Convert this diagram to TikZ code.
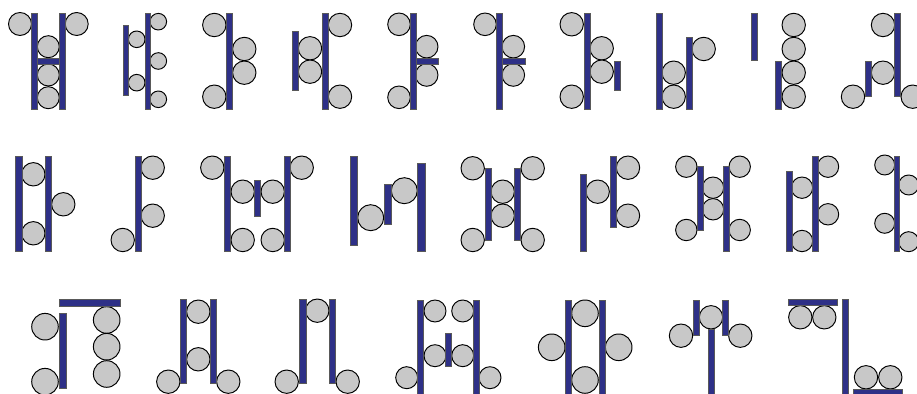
\documentclass[tikz,border=0pt]{standalone}
\definecolor{barblue}{HTML}{2E3087}
\definecolor{ballgray}{HTML}{C8C8C8}

\begin{document}
\begin{tikzpicture}[
    ball/.style={draw=black, fill=ballgray, line width=0.55pt},
    bar/.style={draw=black!65, fill=barblue, line width=0.4pt},
    x=0.02cm, y=-0.02cm]

    \useasboundingbox (0,0) rectangle (917,394);
    \clip (0,0) rectangle (917,394);

    % ----- row 1
    \foreach \x/\y/\r in {20/24/11.5, 76.7/24/11.5, 48.3/46.7/11, 48.3/75/11, 48.3/97.7/11} {
        \draw[ball] (\x,\y) circle[radius=\r];
    }
    \draw[bar] (31.7,13.3) rectangle (37.3,109);
    \draw[bar] (59.3,13.3) rectangle (65.3,109);
    \draw[bar] (37.3,58.3) rectangle (59.3,64);

    \foreach \x/\y in {136.7/39.3, 136.7/82.7, 158.3/21.7, 158.3/61, 158.3/99.3} {
        \draw[ball] (\x,\y) circle[radius=8.3];
    }
    \draw[bar] (123.3,25.7) rectangle (128.3,95.7);
    \draw[bar] (145.3,13.3) rectangle (150.3,109);

    \foreach \x/\y in {214.3/25, 214.3/96.7, 244.3/49, 244.3/72.7} {
        \draw[ball] (\x,\y) circle[radius=11.7];
    }
    \draw[bar] (226.7,13.3) rectangle (232.3,109);

    \foreach \x/\y in {310/48.3, 310/71.7, 340/25, 340/96.7} {
        \draw[ball] (\x,\y) circle[radius=11.7];
    }
    \draw[bar] (292.3,31) rectangle (298.3,90.7);
    \draw[bar] (322.3,13.3) rectangle (328.3,109);

    \foreach \x/\y in {399/24.3, 399/97.3, 426.7/46.7, 426.7/75} {
        \draw[ball] (\x,\y) circle[radius=11.3];
    }
    \draw[bar] (410,13.3) rectangle (416,109);
    \draw[bar] (416,58.3) rectangle (438.3,64);

    \foreach \x/\y in {485/24.3, 513.3/46.7, 513.3/75} {
        \draw[ball] (\x,\y) circle[radius=11.3];
    }
    \draw[bar] (496.7,13.3) rectangle (502.7,109);
    \draw[bar] (502.7,58.3) rectangle (525,64);

    \foreach \x/\y in {571.7/24.3, 571.7/96.7, 601.7/48.3, 601.7/71.7} {
        \draw[ball] (\x,\y) circle[radius=11.7];
    }
    \draw[bar] (584.3,13.3) rectangle (590.3,109);
    \draw[bar] (614.3,61) rectangle (620.3,90.7);

    \foreach \x/\y in {673.7/72.7, 673.7/96.7, 703.7/49} {
        \draw[ball] (\x,\y) circle[radius=11.7];
    }
    \draw[bar] (656,13.3) rectangle (662,109);
    \draw[bar] (686,37.3) rectangle (692,109);

    \foreach \y in {25, 49, 72.7, 96.7} {
        \draw[ball] (793.7,\y) circle[radius=11.7];
    }
    \draw[bar] (751.3,13.3) rectangle (757.3,60.7);
    \draw[bar] (775.7,61) rectangle (781.7,109);

    \foreach \x/\y in {883/25, 883/72.7, 853/96.7, 912.7/96.7} {
        \draw[ball] (\x,\y) circle[radius=11.7];
    }
    \draw[bar] (894.7,13.3) rectangle (900.7,96.7);
    \draw[bar] (865.3,61) rectangle (871.3,96.7);

    % ----- row 2
    \foreach \x/\y in {33.3/174.3, 33.3/233.3, 63.3/204.3} {
        \draw[ball] (\x,\y) circle[radius=11.7];
    }
    \draw[bar] (15.7,156.7) rectangle (22,251.7);
    \draw[bar] (45.7,156.7) rectangle (51.7,251.7);

    \foreach \x/\y in {152.7/167.7, 152.7/215.7, 122.7/240} {
        \draw[ball] (\x,\y) circle[radius=11.7];
    }
    \draw[bar] (135,156.7) rectangle (141,251.7);

    \foreach \x/\y in {212.3/167.7, 242.7/191.7, 272.7/191.7, 242.7/240, 272.7/240, 301.7/167.7} {
        \draw[ball] (\x,\y) circle[radius=11.7];
    }
    \draw[bar] (224.3,156.7) rectangle (230.7,251.7);
    \draw[bar] (254.3,180) rectangle (260.3,216);
    \draw[bar] (284.3,156.7) rectangle (290.7,251.7);

    \draw[ball] (370.7,217.7) circle[radius=13];
    \draw[ball] (404.3,190.7) circle[radius=13];
    \draw[bar] (350,156.7) rectangle (357.3,245);
    \draw[bar] (384,184) rectangle (391,224.3);
    \draw[bar] (417.7,163.3) rectangle (425,251.7);

    \foreach \x/\y in {472.7/168.3, 532.7/168.3, 502.7/191.7, 502.7/215.7, 472.7/240, 532.7/240} {
        \draw[ball] (\x,\y) circle[radius=11.7];
    }
    \draw[bar] (485,168.3) rectangle (491,240);
    \draw[bar] (514.3,168.3) rectangle (520.3,240);

    \foreach \x/\y in {597.7/191.7, 628/167.7, 628/215.7} {
        \draw[ball] (\x,\y) circle[radius=11.7];
    }
    \draw[bar] (580,174.3) rectangle (586.7,251.7);
    \draw[bar] (610.3,156.7) rectangle (616.3,227.7);

    \foreach \x/\y in {686.3/166.7, 713/187.7, 713/209.3, 739.7/166.7, 686.3/230, 739.7/230} {
        \draw[ball] (\x,\y) circle[radius=10.7];
    }
    \draw[bar] (697,166.7) rectangle (703,230.7);
    \draw[bar] (723,166.7) rectangle (729,251.7);

    \foreach \x/\y in {802/187.7, 802/241, 828/166.7, 828/214.3} {
        \draw[ball] (\x,\y) circle[radius=10.7];
    }
    \draw[bar] (786,171.7) rectangle (792,251.7);
    \draw[bar] (812,156.7) rectangle (818,251.7);

    \foreach \x/\y in {884.7/165, 884.7/223.3, 908.7/185, 908.7/241.7} {
        \draw[ball] (\x,\y) circle[radius=10];
    }
    \draw[bar] (894.3,156.7) rectangle (899.7,251.7);

    % ----- row 3
    \foreach \x/\y in {45/326.7, 45/381.7, 106.7/320, 106.7/346.7, 106.7/374} {
        \draw[ball] (\x,\y) circle[radius=13.3];
    }
    \draw[bar] (59.3,299.3) rectangle (120.7,306);
    \draw[bar] (59.3,313.3) rectangle (66,388.3);

    \foreach \x/\y in {198.3/311.7, 198.3/359.3, 168.3/381.7, 228.3/381.7} {
        \draw[ball] (\x,\y) circle[radius=11.7];
    }
    \draw[bar] (180.7,299.3) rectangle (186.7,383.3);
    \draw[bar] (210,299.3) rectangle (216,383.3);

    \foreach \x/\y in {286.7/381.7, 317.3/310.7, 347.7/381.7} {
        \draw[ball] (\x,\y) circle[radius=11.7];
    }
    \draw[bar] (299.3,299.3) rectangle (306,383.3);
    \draw[bar] (329.3,299.3) rectangle (335.3,383.3);

    \foreach \x/\y in {435/311, 462.7/311, 435/355.7, 462.7/355.7, 406.7/377.7, 490/377.7} {
        \draw[ball] (\x,\y) circle[radius=11];
    }
    \draw[bar] (417.7,300) rectangle (423.7,396);
    \draw[bar] (445.3,333.3) rectangle (451.7,366.7);
    \draw[bar] (473.3,300) rectangle (479.3,396);

    \foreach \x/\y in {551.7/347.3, 585/313.3, 585/380, 618.7/347.3} {
        \draw[ball] (\x,\y) circle[radius=13.3];
    }
    \draw[bar] (565.7,300) rectangle (571.7,396);
    \draw[bar] (599.3,300) rectangle (605.3,396);

    \foreach \x/\y in {681/335.7, 711/317.3, 740.3/335.7} {
        \draw[ball] (\x,\y) circle[radius=11.7];
    }
    \draw[bar] (693,300) rectangle (699,335.7);
    \draw[bar] (708,329) rectangle (714,396);
    \draw[bar] (722.3,300) rectangle (728.3,335.7);

    \foreach \x/\y in {800.3/317.3, 824.3/317.3, 866/377.3, 890.3/377.3} {
        \draw[ball] (\x,\y) circle[radius=11.7];
    }
    \draw[bar] (788.3,299.3) rectangle (837,305);
    \draw[bar] (842,299.3) rectangle (848,396);
    \draw[bar] (853.7,389) rectangle (902,396);
\end{tikzpicture}
\end{document}
